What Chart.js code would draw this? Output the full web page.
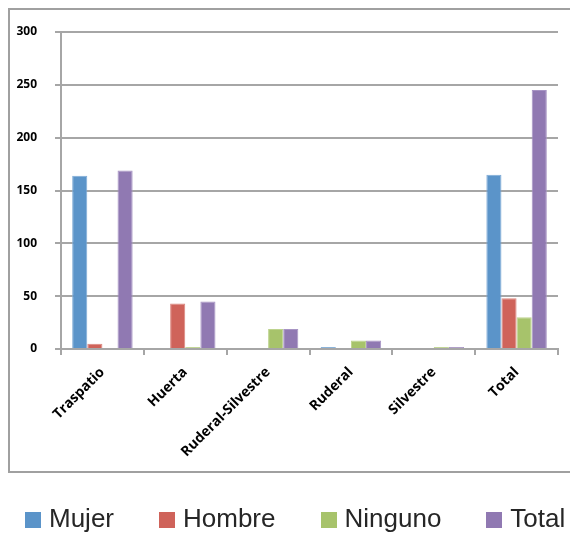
<!DOCTYPE html>
<html>
<head>
<meta charset="utf-8">
<script src="https://cdn.jsdelivr.net/npm/chart.js@4/dist/chart.umd.min.js"></script>
<style>
    html, body { margin: 0; padding: 0; background: #fff; }
    #wrap { width: 570px; height: 534px; position: relative; }
    #legend {
        position: absolute; left: 25px; top: 500px; height: 36px;
        display: flex; align-items: center; gap: 45px;
        font-family: "Liberation Sans", Arial, sans-serif; font-size: 26px; color: #262626;
    }
    .item { display: flex; align-items: center; gap: 8px; }
    .swatch { width: 16px; height: 16px; margin-top: 4px; }
</style>
</head>
<body>
<div id="wrap">
    <canvas id="usosChart" width="570" height="534"></canvas>
    <div id="legend"></div>
</div>
<script>
// Categories and series
const categories = ['Traspatio', 'Huerta', 'Ruderal-Silvestre', 'Ruderal', 'Silvestre', 'Total'];
const mujer   = [164, 0, 0, 2, 0, 165];
const hombre  = [5, 43, 0, 0, 0, 48];
const ninguno = [0, 2, 19, 8, 2, 30];
const total   = [169, 45, 19, 8, 2, 245];
const yTicks  = [0, 50, 100, 150, 200, 250, 300];

const gridGray = '#a6a6a6';

// Outer frame around the plot (legend sits below it)
const framePlugin = {
    id: 'frame',
    beforeDraw(chart) {
        const ctx = chart.ctx;
        ctx.save();
        ctx.strokeStyle = '#a0a0a0';
        ctx.lineWidth = 2;
        ctx.strokeRect(9, 9, 580, 463);
        ctx.restore();
    }
};

function makeSet(label, data, color, edge) {
    return {
        label: label,
        data: data,
        backgroundColor: color,
        borderColor: edge,
        borderWidth: 1,
        barPercentage: 1.0,
        categoryPercentage: 0.73
    };
}

const ctx = document.getElementById('usosChart').getContext('2d');

const chart = new Chart(ctx, {
    type: 'bar',
    data: {
        labels: categories,
        datasets: [
            makeSet('Mujer', mujer, '#5b94c9', '#7eaad6'),
            makeSet('Hombre', hombre, '#cf635a', '#dc877f'),
            makeSet('Ninguno', ninguno, '#a7c36b', '#bdd38e'),
            makeSet('Total', total, '#9079b2', '#a794c4')
        ]
    },
    options: {
        responsive: false,
        animation: false,
        layout: { padding: { top: 32, left: 0, right: 12, bottom: 0 } },
        plugins: {
            legend: { display: false },
            tooltip: { enabled: false }
        },
        scales: {
            y: {
                min: 0,
                max: 300,
                afterFit(scale) { scale.width = 61; },
                afterBuildTicks(scale) { scale.ticks = yTicks.map(v => ({ value: v })); },
                grid: {
                    color: gridGray,
                    lineWidth: 2,
                    tickLength: 6
                },
                border: { color: gridGray, width: 2 },
                ticks: {
                    padding: 18,
                    color: '#000',
                    font: { family: '"Open Sans", sans-serif', size: 12, weight: 'bold' }
                }
            },
            x: {
                afterFit(scale) { scale.height = 185; },
                grid: {
                    offset: true,
                    drawOnChartArea: false,
                    color: gridGray,
                    lineWidth: 2,
                    tickLength: 6
                },
                border: { color: gridGray, width: 2 },
                ticks: {
                    minRotation: 45,
                    maxRotation: 45,
                    padding: 9,
                    color: '#000',
                    font: { family: '"Open Sans", sans-serif', size: 14, weight: 'bold' }
                }
            }
        }
    },
    plugins: [framePlugin]
});

// HTML legend built from the datasets
const legendEl = document.getElementById('legend');
chart.data.datasets.forEach(ds => {
    const item = document.createElement('div');
    item.className = 'item';
    const sw = document.createElement('span');
    sw.className = 'swatch';
    sw.style.background = ds.backgroundColor;
    const txt = document.createElement('span');
    txt.textContent = ds.label;
    item.appendChild(sw);
    item.appendChild(txt);
    legendEl.appendChild(item);
});
</script>
</body>
</html>
